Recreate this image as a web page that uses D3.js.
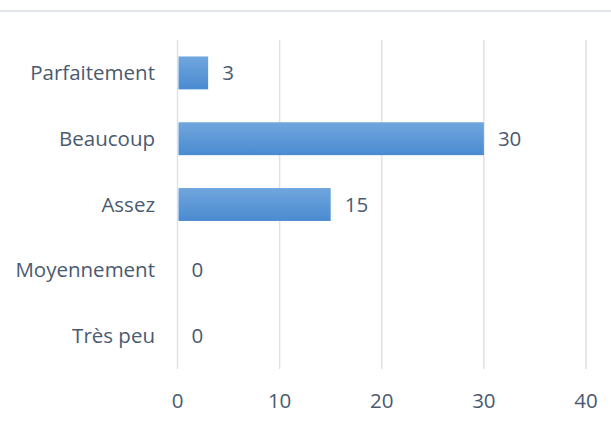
<!DOCTYPE html>
<html>
<head>
<meta charset="utf-8">
<script src="https://cdn.jsdelivr.net/npm/d3@7"></script>
<style>
  body { margin: 0; background: #fff; }
  text { font-family: "Open Sans", sans-serif; fill: #4a5a70; }
</style>
</head>
<body>
<div class="chart"></div>
<script>
const categories = ['Parfaitement', 'Beaucoup', 'Assez', 'Moyennement', 'Très peu'];
const values = [3, 30, 15, 0, 0];
const tickValues = [0, 10, 20, 30, 40];

const width = 611;
const height = 429;
const margin = {top: 40, right: 25, bottom: 60, left: 177.5};
const fontSize = '20.5px';

let svg = d3.select('.chart')
  .append('svg')
    .attr('width', width)
    .attr('height', height);

// bar gradient
let grad = svg.append('defs')
  .append('linearGradient')
    .attr('id', 'barGrad')
    .attr('x1', 0).attr('y1', 0)
    .attr('x2', 0).attr('y2', 1);
grad.append('stop').attr('offset', '0%').attr('stop-color', '#70a6de');
grad.append('stop').attr('offset', '100%').attr('stop-color', '#4a8bd1');

// thin rule at the top
svg.append('line')
  .attr('x1', 0).attr('x2', width)
  .attr('y1', 11).attr('y2', 11)
  .attr('stroke', '#e1e5eb')
  .attr('stroke-width', 2);

let x = d3.scaleLinear()
  .domain([0, 40])
  .range([margin.left, 586]);

let y = d3.scaleBand()
  .domain(categories)
  .range([margin.top, 369])
  .paddingInner(0.5)
  .paddingOuter(0.25);

// gridlines
svg.append('g')
  .selectAll('line')
  .data(tickValues)
  .enter()
  .append('line')
    .attr('x1', (d) => x(d))
    .attr('x2', (d) => x(d))
    .attr('y1', margin.top)
    .attr('y2', 369)
    .attr('stroke', '#dde1e8')
    .attr('stroke-width', 1.5);

// x tick labels
svg.append('g')
  .selectAll('text')
  .data(tickValues)
  .enter()
  .append('text')
    .attr('x', (d) => x(d))
    .attr('y', 408)
    .style('text-anchor', 'middle')
    .style('font-size', fontSize)
    .text((d) => d);

// category labels
svg.append('g')
  .selectAll('text')
  .data(categories)
  .enter()
  .append('text')
    .attr('x', 155)
    .attr('y', (d) => y(d) + y.bandwidth() / 2 + 7)
    .style('text-anchor', 'end')
    .style('font-size', fontSize)
    .text((d) => d);

// bars
svg.append('g')
  .selectAll('rect')
  .data(values)
  .enter()
  .append('rect')
    .attr('x', x(0) + 1)
    .attr('y', (d, i) => y(categories[i]))
    .attr('width', (d) => Math.max(0, x(d) - x(0) - 1))
    .attr('height', y.bandwidth())
    .attr('fill', 'url(#barGrad)');

// value labels
svg.append('g')
  .selectAll('text')
  .data(values)
  .enter()
  .append('text')
    .attr('x', (d) => x(d) + 14)
    .attr('y', (d, i) => y(categories[i]) + y.bandwidth() / 2 + 7)
    .style('font-size', fontSize)
    .text((d) => d);
</script>
</body>
</html>
